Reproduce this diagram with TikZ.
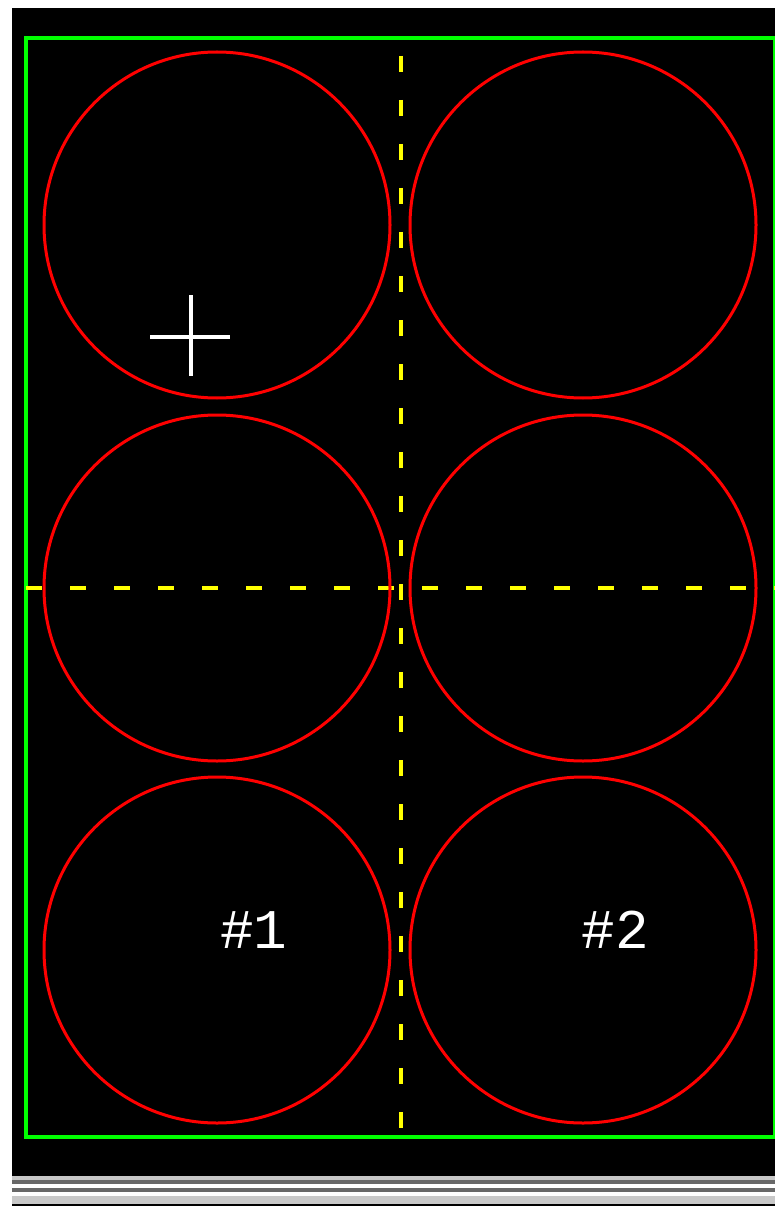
\documentclass[tikz,border=0pt]{standalone}
\usepackage{fontspec}
\newfontfamily\fonterotulo{Liberation Mono}
\usepackage{tikz}
\usetikzlibrary{positioning}
\definecolor{verde}{RGB}{0,255,0}
\definecolor{vermelho}{RGB}{255,0,0}
\definecolor{amarelo}{RGB}{255,255,0}
\definecolor{cinzaclaro}{RGB}{200,200,200}
\definecolor{cinzaescuro}{RGB}{104,104,104}
\tikzset{
    borda/.style  = {draw=verde, line width=3.5pt},
    poco/.style   = {circle, draw=vermelho, line width=3pt, minimum size=346pt, inner sep=0pt},
    eixo/.style   = {amarelo, line width=4pt, dash pattern=on 16pt off 28pt},
    cruz/.style   = {white, line width=4pt},
    rotulo/.style = {text=white, font=\fonterotulo\fontsize{56}{56}\selectfont, inner sep=0pt},
}

\begin{document}
\begin{tikzpicture}[x=1pt, y=-1pt]
        \useasboundingbox (0,0) rectangle (775,1206);
        \fill[white] (0,0) rectangle (775,1206);
        \fill[black] (12,8) rectangle (775,1176);
        % faixas de baixo
        \fill[cinzaclaro] (12,1176) rectangle (775,1180);
        \fill[cinzaescuro] (12,1180) rectangle (775,1184);
        \fill[cinzaescuro] (12,1188) rectangle (775,1192);
        \fill[cinzaclaro] (12,1196) rectangle (775,1204);
        \fill[black] (12,1204) rectangle (775,1206);
        \draw[borda] (26,38) rectangle (775,1137);
        \coordinate (eixoN) at (401,38);
        \coordinate (eixoS) at (401,1137);
        \coordinate (eixoO) at (26,588);
        \coordinate (eixoL) at (775,588);
        \draw[eixo, dash phase=26pt] (eixoN) -- (eixoS);
        \draw[eixo] (eixoO) -- (eixoL);
        \foreach \cx/\col in {217/1,583/2}
            \foreach \cy/\lin in {225/1,588/2,950/3}
                \node[poco] (p\col\lin) at (\cx,\cy) {};
        \coordinate (mira) at (191,337);
        \draw[cruz] (mira) +(-41,0) -- +(39,0);
        \draw[cruz] (mira) +(0,-42) -- +(0,39);
        \node[rotulo] (n1) at (254,930) {\#1};
        \node[rotulo] (n2) at (615,930) {\#2};
    \end{tikzpicture}
\end{document}
